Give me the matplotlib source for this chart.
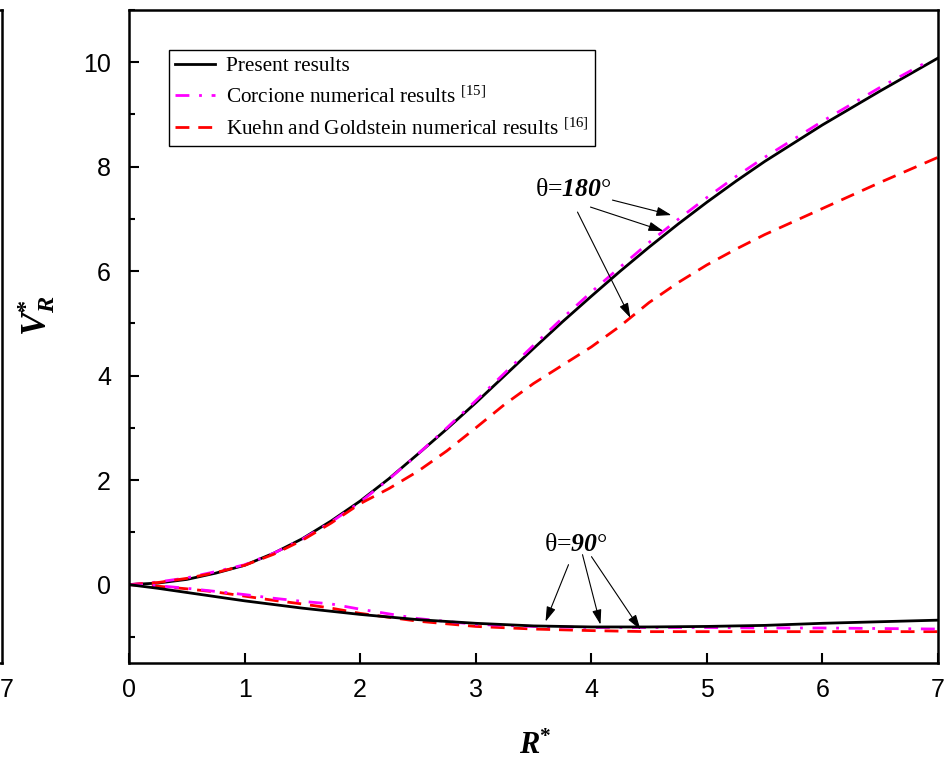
import matplotlib
matplotlib.use("Agg")
import matplotlib.pyplot as plt
from matplotlib.ticker import MultipleLocator

plt.rcParams['mathtext.fontset'] = 'custom'
plt.rcParams['mathtext.rm'] = 'Liberation Serif'
plt.rcParams['mathtext.it'] = 'Liberation Serif:italic'
plt.rcParams['mathtext.bf'] = 'Liberation Serif:bold'
plt.rcParams['mathtext.bfit'] = 'Liberation Serif:bold:italic'

# ---- data ----
R180 = [0, 0.25, 0.5, 0.75, 1, 1.25, 1.5, 1.75, 2, 2.25, 2.5, 2.75, 3, 3.25, 3.5,
        3.75, 4, 4.25, 4.5, 4.75, 5, 5.25, 5.5, 6, 6.5, 7]
V180_present = [0, 0.03, 0.1, 0.22, 0.37, 0.6, 0.88, 1.22, 1.6, 2.03, 2.5, 2.98, 3.48,
                4.0, 4.52, 5.03, 5.52, 6.0, 6.46, 6.9, 7.32, 7.72, 8.1, 8.8, 9.45, 10.08]
R180_corcione = [0, 0.25, 0.5, 0.75, 1, 1.25, 1.5, 1.75, 2, 2.25, 2.5, 2.75, 3, 3.25, 3.5,
                 3.75, 4, 4.25, 4.5, 4.75, 5, 5.25, 5.5, 6, 6.5, 6.9]
V180_corcione = [0, 0.05, 0.13, 0.25, 0.38, 0.6, 0.87, 1.2, 1.58, 2.02, 2.5, 3.0, 3.52,
                 4.05, 4.58, 5.1, 5.6, 6.08, 6.55, 6.99, 7.41, 7.81, 8.18, 8.87, 9.52, 10.0]
V180_kuehn = [0, 0.04, 0.12, 0.23, 0.37, 0.58, 0.85, 1.18, 1.55, 1.84, 2.17, 2.56, 3.0,
              3.45, 3.85, 4.2, 4.55, 4.95, 5.4, 5.78, 6.12, 6.42, 6.7, 7.2, 7.7, 8.18]

R90 = [0, 0.25, 0.5, 0.75, 1, 1.25, 1.5, 1.75, 2, 2.5, 3, 3.5, 4, 4.5, 5, 5.5, 6, 6.5, 7]
V90_present = [0, -0.07, -0.15, -0.23, -0.31, -0.38, -0.45, -0.51, -0.57, -0.67, -0.74,
               -0.79, -0.81, -0.81, -0.80, -0.78, -0.74, -0.71, -0.68]
V90_corcione = [0, -0.02, -0.07, -0.13, -0.19, -0.26, -0.32, -0.37, -0.47, -0.65, -0.76,
                -0.80, -0.82, -0.82, -0.82, -0.83, -0.83, -0.84, -0.85]
V90_kuehn = [0, -0.03, -0.08, -0.14, -0.22, -0.30, -0.37, -0.45, -0.55, -0.70, -0.80,
             -0.85, -0.88, -0.90, -0.90, -0.90, -0.90, -0.90, -0.90]

labels = ["Present results",
          "Corcione numerical results $^{\\mathrm{[15]}}$",
          "Kuehn and Goldstein numerical results $^{\\mathrm{[16]}}$"]

# ---- figure ----
fig = plt.figure(figsize=(9.47, 7.61), dpi=100)
ax = fig.add_axes([129/947, 1-663/761, (938-129)/947, (663-10)/761])

blk = dict(color='black', lw=2.0)
mag = dict(color='#ff00ff', lw=2.0, dashes=(5, 3.5, 1, 3.5))
red = dict(color='#ff0000', lw=2.0, dashes=(5, 3.2))

l1, = ax.plot(R180, V180_present, **blk)
l2, = ax.plot(R180_corcione, V180_corcione, **mag)
l3, = ax.plot(R180, V180_kuehn, **red)
ax.plot(R90, V90_kuehn, **red)
ax.plot(R90, V90_corcione, **mag)
ax.plot(R90, V90_present, **blk)

ax.set_xlim(0, 7)
ax.set_ylim(-1.5, 11)
ax.xaxis.set_major_locator(MultipleLocator(1))
ax.yaxis.set_major_locator(MultipleLocator(2))
ax.yaxis.set_minor_locator(MultipleLocator(1))
ax.tick_params(axis='both', which='both', direction='in', top=False, right=False,
               width=1.5, labelsize=18)
ax.tick_params(axis='x', which='major', length=7, pad=11)
ax.tick_params(axis='y', which='major', length=7, pad=13)
ax.tick_params(axis='y', which='minor', length=4)
for lab in ax.get_xticklabels() + ax.get_yticklabels():
    lab.set_fontfamily('Liberation Sans')
for s in ax.spines.values():
    s.set_linewidth(1.8)

fig.text(535/947, 1-745/761, "$\\mathbfit{R}^{\\mathbf{*}}$", fontsize=22,
         ha='center', va='center')
fig.text(36/947, 1-316/761, "$\\mathbfit{V}_{\\mathbfit{R}}^{\\mathbf{*}}$", fontsize=25,
         ha='center', va='center', rotation=90)

leg = ax.legend([l1, l2, l3], labels, loc='upper left', bbox_to_anchor=(0.049, 0.939),
                prop={'family': 'Liberation Serif', 'size': 15.3}, frameon=True,
                fancybox=False, edgecolor='black', framealpha=1, borderpad=0.3,
                handlelength=1.9, handletextpad=0.5, labelspacing=0.5,
                borderaxespad=0.0)
leg.get_frame().set_linewidth(1.0)


def px(xp, yp):
    return ((xp - 128) / 115.7, (585 - yp) / 52.3)


arrow = dict(arrowstyle='-|>,head_length=0.9,head_width=0.28', color='black', lw=0.8,
             shrinkA=0, shrinkB=0)

ax.text(*px(573, 190), "θ=$\\mathbfit{180}$°", fontsize=18.5, family='Liberation Serif',
        ha='center', va='center')
for (x0, y0), (x1, y1) in [((612, 200), (671, 215)), ((590, 207), (663, 231)),
                           ((577, 212), (630, 318))]:
    ax.annotate("", xy=px(x1, y1), xytext=px(x0, y0), arrowprops=arrow)

ax.text(*px(575, 545), "θ=$\\mathbfit{90}$°", fontsize=18.5, family='Liberation Serif',
        ha='center', va='center')
for (x0, y0), (x1, y1) in [((568, 565), (545, 622)), ((582, 555), (600, 625)),
                           ((591, 557), (640, 630))]:
    ax.annotate("", xy=px(x1, y1), xytext=px(x0, y0), arrowprops=arrow)

# remnant of the neighbouring panel on the left edge
ax0 = fig.add_axes([-0.5, 1-663/761, 0.5 + 2/947, (663-10)/761])
ax0.set_xlim(0, 7)
ax0.set_ylim(-1.5, 11)
ax0.set_xticks([])
ax0.set_yticks([])
for s in ax0.spines.values():
    s.set_linewidth(1.8)
fig.text(0.0, 1-690/761, "7", fontsize=18, family='Liberation Sans',
         ha='left', va='center')

fig.savefig("out.png", dpi=100)
